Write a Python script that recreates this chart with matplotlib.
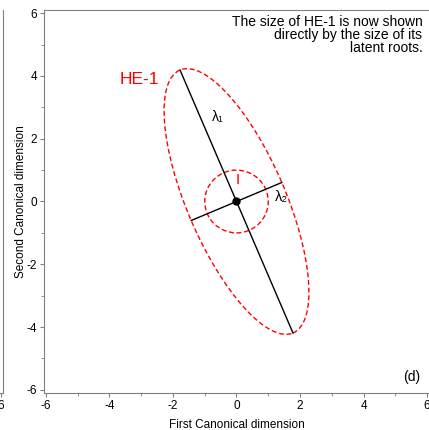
import numpy as np
import matplotlib
matplotlib.use("Agg")
import matplotlib.pyplot as plt
from matplotlib.patches import Ellipse, Circle

plt.rcParams['font.family'] = ['Liberation Sans', 'DejaVu Sans']
plt.rcParams['axes.unicode_minus'] = False

# latent roots (half axis lengths) and orientation of HE-1
centroid = (0.0, 0.0)
lambda_half = [4.55, 1.55]
major_angle_deg = 113.0
error_radius = 1.0
ticks = [-6, -4, -2, 0, 2, 4, 6]
note = "The size of HE-1 is now shown\ndirectly by the size of its\nlatent roots."

W, H = 429, 430
fig = plt.figure(figsize=(W / 100, H / 100), dpi=100)

gray = "#808080"

# fragment of the neighbouring panel on the left
ax0 = fig.add_axes([-0.9, 37 / H, 0.9 + 3 / W, (393 - 10) / H])
ax0.set_xlim(-6.06, 6.06)
ax0.set_ylim(-6.1, 6.1)
ax0.set_xticks([6])
ax0.set_yticks([])
ax0.tick_params(axis='x', length=3, color=gray, labelsize=8.5, pad=2)
for s in ["left", "top"]:
    ax0.spines[s].set_visible(False)
for s in ["right", "bottom"]:
    ax0.spines[s].set_color(gray)

ax = fig.add_axes([44 / W, 37 / H, (W - 44) / W, (393 - 10) / H])
ax.set_xlim(-6.06, 6.06)
ax.set_ylim(-6.1, 6.1)
ax.set_xticks(ticks)
ax.set_yticks(ticks)
ax.set_xticks(range(-5, 6, 2), minor=True)
ax.set_yticks(range(-5, 6, 2), minor=True)
ax.tick_params(which='both', length=3, color=gray, labelsize=8.5, pad=2)
ax.tick_params(which='minor', length=2)
ax.spines["right"].set_visible(False)
for s in ["left", "top", "bottom"]:
    ax.spines[s].set_color(gray)

ax.set_xlabel("First Canonical dimension", fontsize=8.5, labelpad=5)
ax.set_ylabel("Second Canonical dimension", fontsize=8.5, labelpad=0)

# HE-1 ellipse and error circle
dash = (0, (3.5, 2))
ax.add_patch(Ellipse(centroid, 2 * lambda_half[1], 2 * lambda_half[0],
                     angle=major_angle_deg - 90, fill=False, ec="red",
                     lw=1.0, ls=dash))
ax.add_patch(Circle(centroid, error_radius, fill=False, ec="red", lw=1.0, ls=dash))

# latent root axes
for k, half in enumerate(lambda_half):
    a = np.deg2rad(major_angle_deg - 90 * k)
    dx, dy = half * np.cos(a), half * np.sin(a)
    ax.plot([centroid[0] - dx, centroid[0] + dx], [centroid[1] - dy, centroid[1] + dy],
            color="black", lw=1.0)
ax.plot(*centroid, "o", color="black", ms=5)

ax.text(-0.6, 2.7, "λ₁", fontsize=10, ha="center", va="center")
ax.text(1.4, 0.15, "λ₂", fontsize=10.5, ha="center", va="center")
ax.text(0.05, 0.7, "I", fontsize=11, color="red", ha="center", va="center")
ax.text(-3.05, 3.9, "HE-1", fontsize=12.5, color="red", ha="center", va="center")

ax.text(5.85, 5.95, note, fontsize=10, ha="right", va="top", linespacing=0.9)
ax.text(5.8, -5.6, "(d)", fontsize=10, ha="right", va="center")

fig.savefig("out.png", dpi=100)
